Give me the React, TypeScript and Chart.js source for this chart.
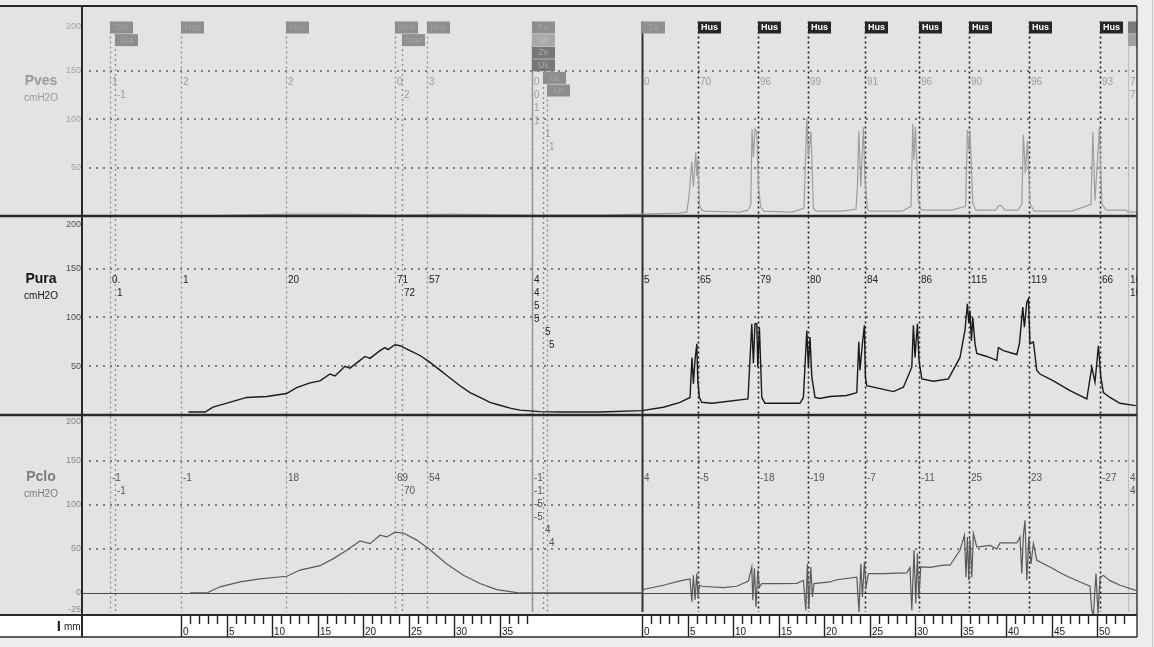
import React, { useEffect, useRef } from 'react';
import { Chart, registerables } from 'chart.js';

Chart.register(...registerables);

const FONT = '"Liberation Sans", Arial, Helvetica, sans-serif';

// x axis: recording time units; the ruler below shows mm, T_PER_MM units per mm
const T_MAX = 527.5;
const T_PER_MM = 4.55;
const rulerStarts = [49.5, 280];
const rulerLengths = [38, 53];

// ---- traces (time, cmH2O) ----
const pvesData: number[][] = [
  [53, 0], [79, 1], [104, 2], [129, 2], [159, 1], [184, 2], [224, 1], [259, 1], [280, 2], [299, 3],
  [302.4, 4], [303.5, 20], [304.9, 56], [305.7, 30], [306.9, 66], [307.4, 41], [307.9, 58], [308.7, 12], [309.9, 6], [311.5, 5],
  [329, 4], [333, 6], [334.4, 12], [335, 90], [335.7, 61], [336.5, 90], [337.4, 87], [338.2, 30], [339.4, 9], [341, 5],
  [355, 4], [361, 8], [362.4, 101], [363.2, 61], [364.5, 87], [365.7, 8], [367, 5],
  [380, 5], [387, 7], [387.7, 30], [388.4, 88], [389.4, 30], [390.7, 92], [391.5, 37], [392.7, 7], [394, 5],
  [410, 5], [414.5, 10], [415.4, 95], [416, 58], [416.7, 92], [418.2, 16], [419.4, 7], [421, 6],
  [435, 6], [441.8, 10], [442.7, 89], [443.4, 68], [444, 87], [445.4, 13], [447, 6],
  [457, 6], [458, 10], [459.5, 11], [461.5, 6],
  [468, 6], [469.9, 12], [470.7, 84], [471.7, 44], [472.7, 78], [474, 13], [476, 5],
  [495, 5], [504.5, 12], [505.4, 87], [506.5, 16], [508.7, 91], [509.9, 13], [512, 6],
  [522, 6], [523, 4], [527.5, 4],
];

const puraData: number[][] = [
  [53.2, 3], [61.5, 3], [65.5, 8], [75.5, 14], [82.3, 18], [92.3, 19], [102.3, 22], [107.3, 28],
  [114, 33], [119, 35], [124, 42], [126.5, 40], [131.5, 50], [134, 48], [139, 56], [141.5, 60], [144, 58],
  [149, 66], [151.5, 69], [153, 67], [156.5, 72], [159, 71], [164, 66], [169, 61], [174, 54], [179, 46],
  [184, 38], [189, 30], [194, 23], [199, 18], [204, 13], [209, 10], [214, 7], [219, 5], [229, 3.5],
  [239, 3], [259, 3], [280, 4.5],
  [290.7, 8], [299, 13], [304, 18], [305, 59], [305.7, 32], [306.5, 56], [307.4, 73], [307.9, 35], [308.7, 18], [309.9, 13], [315, 12], [333, 16.5],
  [334.9, 93.5], [335.7, 53], [336.5, 93.5], [337.4, 93.5], [337.9, 49], [338.7, 90], [339.9, 18], [341.5, 12], [359, 12],
  [360.7, 18], [362.4, 86.7], [363.2, 49], [364, 80], [364.9, 39], [366.5, 18], [369, 17], [374, 19], [382.4, 20], [387.4, 23],
  [388.4, 75], [389, 46], [390.2, 73], [391.2, 92], [391.7, 39], [392.4, 30], [399, 27], [405.7, 24], [410.7, 28.5], [414.9, 49],
  [415.7, 92], [416.5, 59], [417.7, 93.5], [418.5, 56], [419.9, 37], [425.7, 34.6], [433.2, 37], [439, 59], [441.5, 87],
  [442.7, 114], [443.4, 94], [444, 107], [444.7, 76], [445.4, 100], [446.5, 73], [447.4, 63], [452.4, 60], [457.4, 56],
  [458.2, 69], [460.7, 66], [467.4, 62], [468.7, 73],
  [470.4, 110.6], [471.2, 90], [472.4, 115.7], [473.2, 119], [474, 73], [475.7, 75], [477.4, 45.6], [479, 42], [485.7, 35], [494, 25], [502.4, 16.5],
  [504.9, 49], [506.5, 33.6], [508.2, 71], [509.4, 39], [510.7, 23], [514, 18], [519, 12], [526.9, 9.6],
];

const pcloData: number[][] = [
  [54, 0], [62.4, 0], [69, 7], [79, 12.5], [89, 16], [102.4, 19], [109, 26], [119, 31], [125.7, 39], [132.4, 48.5],
  [139, 59], [144, 56], [149, 65.6], [152.4, 63.6], [156.5, 69], [160.7, 68], [167.4, 60], [174, 49], [182.4, 33],
  [190.7, 20], [199, 10.7], [207.4, 3.8], [215.7, 1], [219, 0], [280, 0],
  [280.7, 4], [290.7, 8.8], [299, 13.7], [304, 16], [304.9, -10], [305.7, 20], [306.5, -8], [307.4, 22], [308, -4.5], [308.7, 8.8], [309.9, 7.6], [320.7, 6], [327.4, 7.6], [333.2, 13.6],
  [334.9, 29.5], [335.4, -8.3], [336.2, 28], [337, -16], [337.9, 26], [338.7, 6.8], [339.9, 10.7], [349, 10.7], [357.4, 11], [360.7, 14.4],
  [361.9, -19.7], [362.7, 33], [363.4, -18], [364.4, 29.5], [365.2, -4.5], [366, 10.7], [374, 12.5], [377.4, 15], [387.4, 18],
  [388.5, -21.6], [389.4, 33], [390.2, -4.5], [391.2, 35], [392, 6.8], [393.2, 22], [400.7, 22], [412.4, 22.7], [414, 29],
  [414.9, -19.7], [416, 48.5], [416.9, -12], [417.7, 44.7], [418.4, -6], [419.4, 29.5], [424, 29], [430.7, 31.5], [434, 31.5], [439, 48.5], [441.2, 65.6],
  [442, 18], [442.7, 63.6], [443.4, 14.4], [444, 61], [444.9, 18], [445.7, 67.5], [447.4, 52], [454, 54], [457.4, 50], [459, 56.8], [467.4, 56.8], [469, 63.6],
  [469.9, 22], [470.7, 65.6], [471.5, 82.6], [472.4, 14.4], [473.4, 63.6], [474.5, 33], [475.7, 56], [477.4, 37], [484, 29.5], [490.7, 21], [499, 12.5], [504, 7.6],
  [504.9, -19.7], [505.7, -25], [507, 22], [508, -24], [509, 18], [510.7, 20], [514, 14], [519, 8.8], [526.9, 3],
];

// ---- event markers ----
const eventTimes = [14, 16.5, 49.5, 102, 156.5, 160, 172.5, 225, 225, 225, 225, 230.5, 232.5, 280,
  308, 338, 363, 391.5, 418.5, 443.5, 473.5, 509, 523, 523];
const eventRows = [0, 1, 0, 0, 0, 1, 0, 0, 1, 2, 3, 4, 5, 0, 0, 0, 0, 0, 0, 0, 0, 0, 0, 1];
const eventKinds = ['fill', 'fill', 'fill', 'fill', 'fill', 'fill', 'fill', 'fill', 'light', 'dark', 'dark', 'fill', 'fill', 'start',
  'hus', 'hus', 'hus', 'hus', 'hus', 'hus', 'hus', 'hus', 'end', 'endLight'];
const eventFlags = ['Sta', 'Sta', 'Hus', 'Hus', 'Sme', 'Sme', 'Hus', 'Fe', 'Ur', 'Ze', 'Uk', 'Ur', 'Ur', 'Tø',
  'Hus', 'Hus', 'Hus', 'Hus', 'Hus', 'Hus', 'Hus', 'Hus', '', ''];
const pvesMarks = ['1', '-1', '2', '2', '0', '2', '3', '0', '0', '1', '1', '1', '1', '0',
  '70', '96', '99', '91', '96', '90', '96', '93', '7', '7'];
const puraMarks = ['0.', '1', '1', '20', '71', '72', '57', '4', '4', '5', '5', '5', '5', '5',
  '65', '79', '80', '84', '86', '115', '119', '66', '10', '10'];
const pcloMarks = ['-1', '-1', '-1', '18', '69', '70', '54', '-1', '-1', '-5', '-5', '4', '4', '4',
  '-5', '-18', '-19', '-7', '-11', '25', '23', '-27', '4', '4'];

// ---- panel axes ----
const pvesTicks = [50, 100, 150, 200];
const puraTicks = [50, 100, 150, 200];
const pcloTicks = [-25, 0, 50, 100, 150, 200];
const gridValues = [50, 100, 150];

// layout (pixels)
const AREA_TOP = 6;
const AREA_BOTTOM = 615;
const AREA_LEFT = 82;
const AREA_RIGHT = 1137;
const RULER_H = 22;
const FLAG_TOP = 21.5;
const FLAG_H = 12.6;
const ROW_H = 13;

const panels = [
  { id: 'yPves', title: 'Pves', top: 6, bottom: 216, min: 0, max: 217, ticks: pvesTicks, marks: pvesMarks,
    anchor: 138, titleColor: '#9a9a9a', tickColor: '#a3a3a3', markColor: '#9c9c9c' },
  { id: 'yPura', title: 'Pura', top: 216, bottom: 415, min: 0, max: 204, ticks: puraTicks, marks: puraMarks,
    anchor: 138, titleColor: '#151515', tickColor: '#505050', markColor: '#222222' },
  { id: 'yPclo', title: 'Pclo', top: 415, bottom: 615, min: -25, max: 202, ticks: pcloTicks, marks: pcloMarks,
    anchor: 130, titleColor: '#7c7c7c', tickColor: '#8a8a8a', markColor: '#555555' },
];

function scaleRange(p: any) {
  const ppu = (p.bottom - p.top) / (p.max - p.min);
  return { min: p.min - (AREA_BOTTOM - p.bottom) / ppu, max: p.max + (p.top - AREA_TOP) / ppu };
}

const kindStyle: any = {
  fill: { line: '#8c8c8c', dash: [2, 3], width: 1.3, flag: '#8e8e8e', text: '#a2a2a2' },
  light: { line: '#8c8c8c', dash: [2, 3], width: 1.3, flag: '#a9a9a9', text: '#c0c0c0' },
  dark: { line: '#8c8c8c', dash: [2, 3], width: 1.3, flag: '#777777', text: '#a8a8a8' },
  start: { line: '#333333', dash: [], width: 2, flag: '#909090', text: '#a2a2a2' },
  hus: { line: '#1c1c1c', dash: [2, 3], width: 1.6, flag: '#262626', text: '#ffffff' },
  end: { line: '#b8b8b8', dash: [2, 3], width: 1.2, flag: '#7a7a7a', text: '#7a7a7a' },
  endLight: { line: '#b8b8b8', dash: [2, 3], width: 1.2, flag: '#a0a0a0', text: '#a0a0a0' },
};

const decor = {
  id: 'uroDecor',
  beforeDraw(chart: any) {
    const { ctx, scales } = chart;
    const W = chart.width, H = chart.height;
    ctx.save();
    ctx.fillStyle = '#ededed';
    ctx.fillRect(0, 0, W, H);
    ctx.fillStyle = '#e3e3e3';
    ctx.fillRect(0, AREA_TOP, AREA_RIGHT, AREA_BOTTOM - AREA_TOP);
    ctx.fillStyle = '#ffffff';
    ctx.fillRect(0, AREA_BOTTOM, AREA_RIGHT, RULER_H);

    // dotted grid
    ctx.strokeStyle = '#5c5c5c';
    ctx.lineWidth = 1.6;
    ctx.setLineDash([2, 5]);
    panels.forEach((p) => {
      const s = scales[p.id];
      gridValues.forEach((v) => {
        const y = Math.round(s.getPixelForValue(v));
        ctx.beginPath();
        ctx.moveTo(AREA_LEFT + 7, y);
        ctx.lineTo(AREA_RIGHT, y);
        ctx.stroke();
      });
    });
    ctx.setLineDash([]);

    // Pclo zero line
    const zy = Math.round(scales.yPclo.getPixelForValue(0)) + 0.5;
    ctx.strokeStyle = '#4a4a4a';
    ctx.lineWidth = 1;
    ctx.beginPath();
    ctx.moveTo(AREA_LEFT, zy);
    ctx.lineTo(AREA_RIGHT, zy);
    ctx.stroke();

    // tick labels and titles
    panels.forEach((p) => {
      const s = scales[p.id];
      ctx.font = '9px ' + FONT;
      ctx.fillStyle = p.tickColor;
      ctx.textAlign = 'right';
      ctx.textBaseline = 'middle';
      p.ticks.forEach((v) => {
        let y = s.getPixelForValue(v);
        if (v === 200) y += 4.5;
        if (v === -25) y -= 5;
        ctx.fillText(String(v), AREA_LEFT - 1, y);
      });
      const ty = s.getPixelForValue(p.anchor);
      ctx.textAlign = 'center';
      ctx.fillStyle = p.titleColor;
      ctx.font = 'bold 14px ' + FONT;
      ctx.fillText(p.title, 41, ty - 1);
      ctx.font = '10px ' + FONT;
      ctx.fillText('cmH2O', 41, ty + 16);
    });
    ctx.restore();
  },
  beforeDatasetsDraw(chart: any) {
    const { ctx, scales } = chart;
    ctx.save();
    eventTimes.forEach((t, i) => {
      const st = kindStyle[eventKinds[i]];
      const x = Math.round(scales.x.getPixelForValue(t)) + 0.5;
      const top = FLAG_TOP + eventRows[i] * FLAG_H;
      ctx.strokeStyle = st.line;
      ctx.lineWidth = st.width;
      ctx.setLineDash(st.dash);
      ctx.beginPath();
      ctx.moveTo(x, top);
      ctx.lineTo(x, AREA_BOTTOM - 3);
      ctx.stroke();
    });
    ctx.restore();
  },
  afterDatasetsDraw(chart: any) {
    const { ctx, scales } = chart;
    ctx.save();
    ctx.beginPath();
    ctx.rect(AREA_LEFT, AREA_TOP, AREA_RIGHT - AREA_LEFT, AREA_BOTTOM - AREA_TOP);
    ctx.clip();
    // flags
    eventTimes.forEach((t, i) => {
      const st = kindStyle[eventKinds[i]];
      const x = Math.round(scales.x.getPixelForValue(t));
      const top = FLAG_TOP + eventRows[i] * FLAG_H;
      ctx.fillStyle = st.flag;
      ctx.fillRect(x, top, 23, FLAG_H - 0.6);
      ctx.fillStyle = st.text;
      ctx.font = (eventKinds[i] === 'hus' ? 'bold ' : '') + '9px ' + FONT;
      ctx.textAlign = 'center';
      ctx.textBaseline = 'middle';
      ctx.fillText(eventFlags[i], x + 11.5, top + FLAG_H / 2);
    });
    // values at markers
    ctx.font = '10px ' + FONT;
    ctx.textAlign = 'left';
    ctx.textBaseline = 'middle';
    panels.forEach((p) => {
      const s = scales[p.id];
      const y0 = s.getPixelForValue(p.anchor);
      ctx.fillStyle = p.markColor;
      eventTimes.forEach((t, i) => {
        const x = Math.round(scales.x.getPixelForValue(t));
        ctx.fillText(p.marks[i], x + 2, y0 + eventRows[i] * ROW_H);
      });
    });
    ctx.restore();
  },
  afterDraw(chart: any) {
    const { ctx, scales } = chart;
    ctx.save();
    // ruler
    ctx.strokeStyle = '#222222';
    ctx.lineWidth = 1.4;
    ctx.fillStyle = '#222222';
    ctx.font = '10px ' + FONT;
    ctx.textAlign = 'left';
    ctx.textBaseline = 'alphabetic';
    rulerStarts.forEach((start, k) => {
      for (let mm = 0; mm <= rulerLengths[k]; mm++) {
        const x = Math.round(scales.x.getPixelForValue(start + mm * T_PER_MM)) + 0.5;
        const major = mm % 5 === 0;
        ctx.beginPath();
        ctx.moveTo(x, AREA_BOTTOM);
        ctx.lineTo(x, AREA_BOTTOM + (major ? RULER_H : 9));
        ctx.stroke();
        if (major) ctx.fillText(String(mm), x + 1.5, AREA_BOTTOM + 20);
      }
    });
    ctx.font = 'bold 15px ' + FONT;
    ctx.textAlign = 'right';
    ctx.textBaseline = 'middle';
    ctx.fillText('I', 61, AREA_BOTTOM + 11.5);
    ctx.font = '10px ' + FONT;
    ctx.textAlign = 'left';
    ctx.fillText('mm', 64, AREA_BOTTOM + 12.5);

    // frame
    ctx.strokeStyle = '#2a2a2a';
    const hline = (y: number, w: number, x0 = 0) => {
      ctx.lineWidth = w;
      ctx.beginPath();
      ctx.moveTo(x0, y);
      ctx.lineTo(AREA_RIGHT, y);
      ctx.stroke();
    };
    hline(AREA_TOP, 2);
    panels.forEach((p, i) => { if (i > 0) hline(p.top, 2.5); });
    hline(AREA_BOTTOM, 2.2);
    hline(AREA_BOTTOM + RULER_H, 1.5);
    ctx.lineWidth = 2;
    ctx.beginPath();
    ctx.moveTo(AREA_LEFT, AREA_TOP);
    ctx.lineTo(AREA_LEFT, AREA_BOTTOM + RULER_H);
    ctx.stroke();
    ctx.strokeStyle = '#3a3a3a';
    ctx.lineWidth = 1.5;
    ctx.beginPath();
    ctx.moveTo(AREA_RIGHT, AREA_TOP);
    ctx.lineTo(AREA_RIGHT, AREA_BOTTOM + RULER_H);
    ctx.stroke();
    ctx.strokeStyle = '#c8c8c8';
    ctx.lineWidth = 1;
    ctx.beginPath();
    ctx.moveTo(1152.5, 0);
    ctx.lineTo(1152.5, chart.height);
    ctx.stroke();
    ctx.restore();
  },
};

export default function App() {
  const ref = useRef<HTMLCanvasElement>(null);
  useEffect(() => {
    document.body.style.margin = '0';
    const canvas = ref.current;
    if (!canvas) return;
    const toXY = (arr: number[][]) => arr.map(([x, y]) => ({ x, y }));
    const yScales: any = {};
    panels.forEach((p) => {
      const r = scaleRange(p);
      yScales[p.id] = { type: 'linear', display: false, min: r.min, max: r.max };
    });
    const chart = new Chart(canvas, {
      type: 'line',
      data: {
        datasets: [
          { label: 'Pves', data: toXY(pvesData), yAxisID: 'yPves', borderColor: '#9e9e9e', borderWidth: 1.2,
            pointRadius: 0, fill: false, tension: 0 },
          { label: 'Pura', data: toXY(puraData), yAxisID: 'yPura', borderColor: '#1a1a1a', borderWidth: 1.4,
            pointRadius: 0, fill: false, tension: 0 },
          { label: 'Pclo', data: toXY(pcloData), yAxisID: 'yPclo', borderColor: '#5a5a5a', borderWidth: 1.2,
            pointRadius: 0, fill: false, tension: 0 },
        ],
      },
      options: {
        animation: false,
        responsive: false,
        devicePixelRatio: 1,
        events: [],
        layout: { padding: { left: AREA_LEFT, top: AREA_TOP, right: 1154 - AREA_RIGHT, bottom: 647 - AREA_BOTTOM } },
        plugins: { legend: { display: false }, tooltip: { enabled: false }, title: { display: false } },
        scales: {
          x: { type: 'linear', display: false, min: 0, max: T_MAX },
          ...yScales,
        },
      },
      plugins: [decor],
    } as any);
    return () => chart.destroy();
  }, []);
  return <canvas ref={ref} width={1154} height={647} style={{ display: 'block', width: 1154, height: 647 }} />;
}
